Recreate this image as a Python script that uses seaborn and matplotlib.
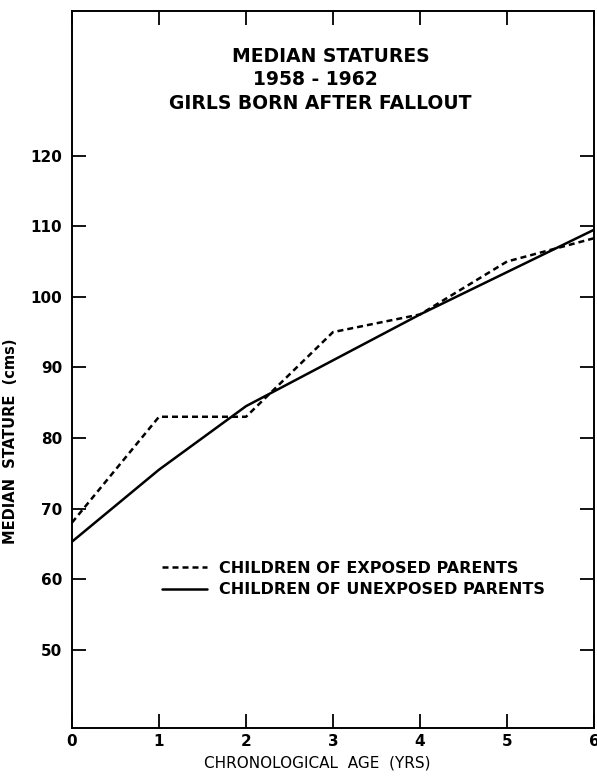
import pandas as pd
import matplotlib
matplotlib.use('Agg')
import matplotlib.pyplot as plt
import seaborn as sns

# values
age = [0, 1, 2, 3, 4, 5, 6]
exposed = [68.0, 83.0, 83.0, 95.0, 97.5, 105.0, 108.3]
unexposed = [65.3, 75.5, 84.5, 91.0, 97.5, 103.5, 109.5]
series_names = ['CHILDREN OF EXPOSED PARENTS', 'CHILDREN OF UNEXPOSED PARENTS']
y_ticks = [50, 60, 70, 80, 90, 100, 110, 120]
x_ticks = [0, 1, 2, 3, 4, 5, 6]
title_lines = ['MEDIAN STATURES', '1958 - 1962', 'GIRLS BORN AFTER FALLOUT']

df = pd.DataFrame({
    'age': age * 2,
    'stature': exposed + unexposed,
    'group': [series_names[0]] * len(age) + [series_names[1]] * len(age),
})

sns.set_style('ticks')
plt.rcParams['font.family'] = ['DejaVu Sans']
plt.rcParams['text.color'] = 'black'
plt.rcParams['axes.labelcolor'] = 'black'

fig = plt.figure(figsize=(5.97, 7.76), dpi=100)
ax = fig.add_axes([0.1206, 0.0619, 0.8744, 0.9239])

sns.lineplot(data=df, x='age', y='stature', style='group',
             dashes={series_names[0]: (2.4, 1.6), series_names[1]: ''},
             color='black', linewidth=1.8, ax=ax)

ax.set_xlim(0, 6)
ax.set_ylim(38.9, 140.5)
ax.set_xticks(x_ticks)
ax.set_yticks(y_ticks)
ax.tick_params(direction='in', length=10, width=1.3, top=True, right=True,
               labelsize=11, colors='black')
ax.tick_params(axis='x', pad=4)
ax.tick_params(axis='y', pad=7)
for lab in ax.get_yticklabels() + ax.get_xticklabels():
    lab.set_fontweight('bold')
for sp in ax.spines.values():
    sp.set_linewidth(1.4)
    sp.set_color('black')

ax.set_xlabel('CHRONOLOGICAL  AGE  (YRS)', fontsize=11)
ax.xaxis.set_label_coords(0.47, -0.038)
ax.set_ylabel('MEDIAN  STATURE  (cms)', fontsize=10.5, fontweight='bold')
ax.yaxis.set_label_coords(-0.103, 0.40)

title_y = [0.936, 0.904, 0.871]
title_x = [0.495, 0.466, 0.476]
for txt, tx, ty in zip(title_lines, title_x, title_y):
    ax.text(tx, ty, txt, transform=ax.transAxes, ha='center', va='center',
            fontsize=13.5, fontweight='bold')

leg = ax.legend(loc='upper left', bbox_to_anchor=(0.16, 0.242), frameon=False,
                fontsize=11.5, handlelength=2.8, handletextpad=0.75,
                labelspacing=0.4, borderaxespad=0)
for t in leg.get_texts():
    t.set_fontweight('bold')
    t.set_color('black')

fig.savefig('out.png', dpi=100)
